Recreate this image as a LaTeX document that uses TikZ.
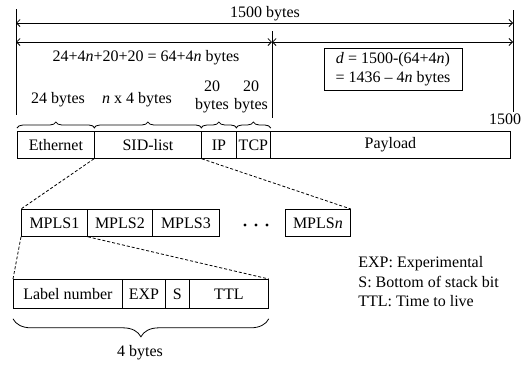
\documentclass[tikz,border=0pt]{standalone}
\usepackage{fontspec}
\setmainfont{Liberation Serif}
\usetikzlibrary{arrows.meta,decorations.pathreplacing,calc}
\begin{document}
\begin{tikzpicture}[x=1pt,y=-1pt,line width=0.8pt,
  font=\fontsize{16}{18}\selectfont,
  cell/.style={draw,inner sep=0pt,minimum height=27pt,anchor=north west},
  lbl/.style={inner sep=0pt,align=center},
  dim/.style={{Straight Barb[length=3.5pt,width=7pt]}-{Straight Barb[length=3.5pt,width=7pt]}},
  dsh/.style={dash pattern=on 3pt off 2pt},
  brc/.style={decorate,decoration={brace,amplitude=#1}}]
\useasboundingbox (0,0) rectangle (527,365);
% main row
\node[cell,minimum width=77pt] (eth) at (17,131) {Ethernet};
\node[cell,minimum width=107pt] (sid) at (94,131) {SID-list};
\node[cell,minimum width=35pt] (ip) at (201,131) {IP};
\node[cell,minimum width=34pt] (tcp) at (236,131) {TCP};
\node[cell,minimum width=240pt] (pay) at (270,131) {Payload};
% vertical lines
\coordinate (l1) at (16,9); \coordinate (l2) at (16,115);
\coordinate (m1) at (272,31); \coordinate (m2) at (272,118);
\coordinate (r1) at (513,10); \coordinate (r2) at (513,112);
\draw (l1) -- (l2); \draw (m1) -- (m2); \draw (r1) -- (r2);
% dimension arrows
\coordinate (a1) at (16,23); \coordinate (a2) at (513,23);
\coordinate (b1) at (16,42); \coordinate (b2) at (272,42); \coordinate (b3) at (513,42);
\draw[dim] (a1) -- (a2);
\draw[dim] (b1) -- (b2);
\draw[dim] (b2) -- (b3);
\node[lbl] (t1500) at (265,14) {1500 bytes};
\node[lbl] (tsum) at (146,58) {24+4\textit{n}+20+20 = 64+4\textit{n} bytes};
\node[draw,align=center,inner sep=0pt,minimum width=138pt,minimum height=42pt,font=\fontsize{16}{19.5}\selectfont] (dbox) at (393,69) {\textit{d} = 1500-(64+4\textit{n})\\= 1436 -- 4\textit{n} bytes};
\node[lbl] (t24) at (58,100) {24 bytes};
\node[lbl] (tn4) at (137,100) {\textit{n} x 4 bytes};
\node[lbl] (t20a) at (212,97) {20\\bytes};
\node[lbl] (t20b) at (251,97) {20\\bytes};
\node[lbl] (t1500b) at (505,119) {1500};
% braces above the main row
\draw[brc=6pt] ($(eth.north west)+(0,-3)$) -- ($(eth.north east)+(0,-3)$);
\draw[brc=6pt] ($(sid.north west)+(0,-3)$) -- ($(sid.north east)+(0,-3)$);
\draw[brc=6pt] ($(ip.north west)+(0,-3)$) -- ($(ip.north east)+(0,-3)$);
\draw[brc=6pt] ($(tcp.north west)+(0,-3)$) -- ($(tcp.north east)+(0,-3)$);
% MPLS row
\node[cell,minimum width=66pt] (mp1) at (21,209) {MPLS1};
\node[cell,minimum width=65pt] (mp2) at (87,209) {MPLS2};
\node[cell,minimum width=67pt] (mp3) at (152,209) {MPLS3};
\node[cell,minimum width=65pt] (mpn) at (285,209) {MPLS\textit{n}};
\fill (245,225) circle (1.6pt) (256,225) circle (1.6pt) (267,225) circle (1.6pt);
\draw[dsh] (sid.south west) -- (mp1.north west);
\draw[dsh] (sid.south east) -- (mpn.north east);
% label row
\node[cell,minimum width=109pt,minimum height=29pt] (lab) at (13,279) {Label number};
\node[cell,minimum width=43pt,minimum height=29pt] (exp) at (122,279) {EXP};
\node[cell,minimum width=24pt,minimum height=29pt] (sb) at (165,279) {S};
\node[cell,minimum width=79pt,minimum height=29pt] (ttl) at (189,279) {TTL};
\draw[dsh] (mp1.south west) -- (lab.north west);
\draw[dsh] (mp1.south east) -- (ttl.north east);
\draw[brc=18pt] ($(ttl.south east)+(0,10)$) -- ($(lab.south west)+(0,10)$);
\node[lbl] (t4) at (140,353) {4 bytes};
% legend
\node[lbl,anchor=west,align=left,font=\fontsize{16}{19.5}\selectfont] (leg) at (358,282) {EXP: Experimental\\S: Bottom of stack bit\\TTL: Time to live};
\end{tikzpicture}
\end{document}
